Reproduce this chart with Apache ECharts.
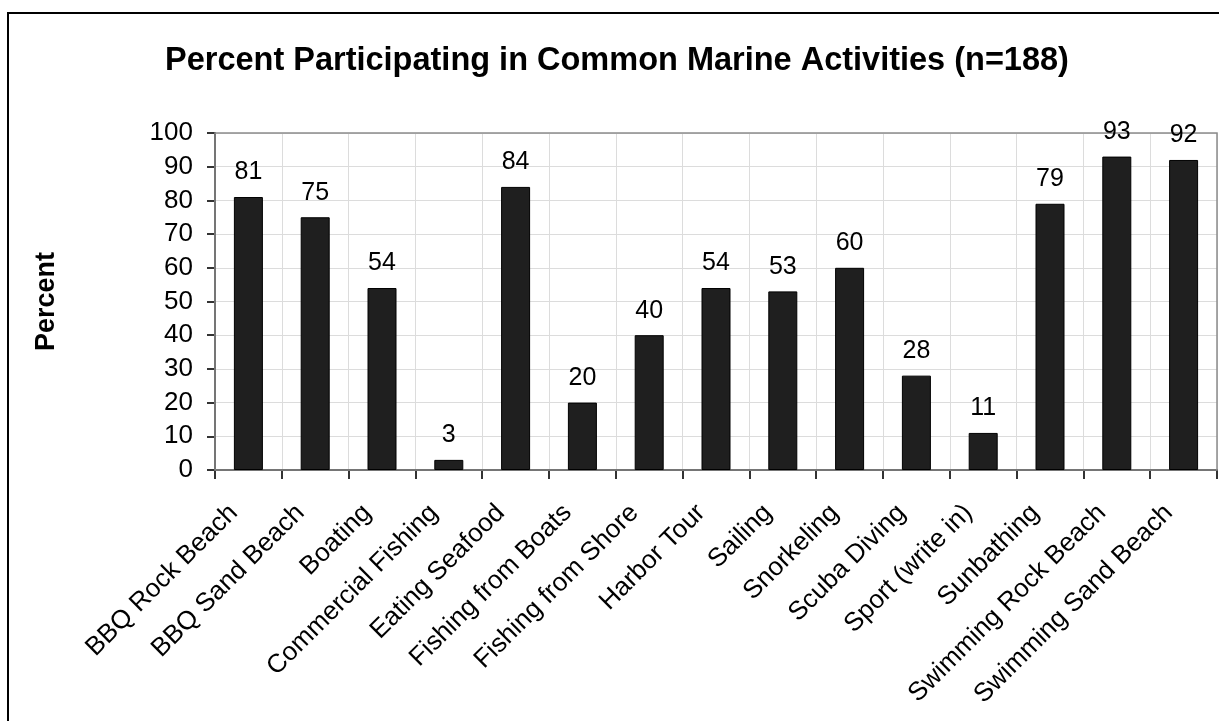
<!DOCTYPE html>
<html>
<head>
<meta charset="utf-8">
<title>Percent Participating in Common Marine Activities</title>
<script src="https://cdn.jsdelivr.net/npm/echarts@6/dist/echarts.min.js"></script>
<style>
  html, body { margin: 0; padding: 0; background: #fff; }
  #chart { width: 1219px; height: 721px; }
</style>
</head>
<body>
<div id="chart"></div>
<script>
// activities along the x axis
const activities = [
  'BBQ Rock Beach', 'BBQ Sand Beach', 'Boating', 'Commercial Fishing',
  'Eating Seafood', 'Fishing from Boats', 'Fishing from Shore', 'Harbor Tour',
  'Sailing', 'Snorkeling', 'Scuba Diving', 'Sport (write in)',
  'Sunbathing', 'Swimming Rock Beach', 'Swimming Sand Beach'
];
// percent participating
const percents = [81, 75, 54, 3, 84, 20, 40, 54, 53, 60, 28, 11, 79, 93, 92];

const chartTitle = 'Percent Participating in Common Marine Activities (n=188)';
const yName = 'Percent';

const font = '"Liberation Sans", Arial, sans-serif';

const chart = echarts.init(document.getElementById('chart'), null, { renderer: 'canvas' });

const option = {
  animation: false,
  backgroundColor: '#fff',
  textStyle: { fontFamily: font },
  title: {
    text: chartTitle,
    left: 165,
    top: 45,
    padding: 0,
    textStyle: { fontFamily: font, fontSize: 32.5, fontWeight: 'bold', color: '#000' }
  },
  graphic: [
    {
      // outer chart frame (right and bottom edges run off the picture)
      type: 'rect',
      shape: { x: 8, y: 13, width: 1400, height: 900 },
      style: { fill: null, stroke: '#000', lineWidth: 2 },
      silent: true,
      z: 100
    },
    {
      // grey plot-area border on top / right
      type: 'rect',
      shape: { x: 215, y: 133, width: 1002, height: 337 },
      style: { fill: null, stroke: '#8c8c8c', lineWidth: 1.5 },
      silent: true,
      z: 1
    }
  ],
  grid: {
    left: 215,
    right: 2,
    top: 133,
    bottom: 251,
    containLabel: false
  },
  xAxis: {
    type: 'category',
    data: activities,
    boundaryGap: true,
    axisLine: { show: true, lineStyle: { color: '#333', width: 2 } },
    axisTick: { show: true, length: 9, lineStyle: { color: '#333', width: 2 } },
    splitLine: { show: true, lineStyle: { color: '#dcdcdc', width: 1 } },
    axisLabel: {
      interval: 0,
      rotate: 45,
      margin: 24,
      padding: [0, 21, 0, 0],
      fontFamily: font,
      fontSize: 26,
      color: '#000'
    }
  },
  yAxis: {
    type: 'value',
    min: 0,
    max: 100,
    interval: 10,
    name: yName,
    nameLocation: 'middle',
    nameGap: 155,
    nameTextStyle: { fontFamily: font, fontSize: 27, fontWeight: 'bold', color: '#000' },
    axisLine: { show: true, lineStyle: { color: '#333', width: 2 } },
    axisTick: { show: true, length: 8, lineStyle: { color: '#333', width: 2 } },
    splitLine: { show: true, lineStyle: { color: '#dcdcdc', width: 1 } },
    axisLabel: {
      margin: 22,
      fontFamily: font,
      fontSize: 26,
      color: '#000'
    }
  },
  series: [
    {
      type: 'bar',
      data: percents,
      barWidth: 29,
      itemStyle: { color: '#1f1f1f', borderColor: '#000', borderWidth: 1 },
      label: {
        show: true,
        position: 'top',
        distance: 12,
        fontFamily: font,
        fontSize: 25,
        color: '#000'
      }
    }
  ]
};

chart.setOption(option);
window.addEventListener('resize', () => chart.resize());
</script>
</body>
</html>
